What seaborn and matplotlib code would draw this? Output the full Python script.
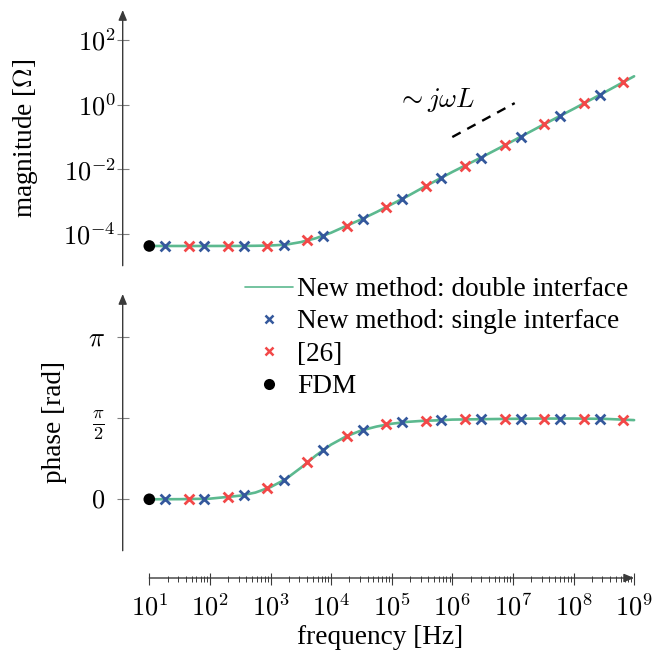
import numpy as np
import pandas as pd
import matplotlib
matplotlib.use("Agg")
import matplotlib.pyplot as plt
import seaborn as sns
from matplotlib.lines import Line2D
from matplotlib.ticker import FixedLocator, NullLocator

# ---------------------------------------------------------------- data
# frequencies are given as log10(f / Hz), magnitudes as log10(|Z| / Ohm)
line_log_f = [1.0, 1.5, 2.0, 2.5, 2.75, 3.0, 3.25, 3.5, 3.75, 4.0, 4.25, 4.5,
              4.75, 5.0, 5.25, 5.5, 5.75, 6.0, 6.5, 7.0, 7.5, 8.0, 8.5, 9.0]
line_mag_dec = [-4.37, -4.37, -4.37, -4.368, -4.364, -4.355, -4.33, -4.25,
                -4.13, -3.96, -3.75, -3.545, -3.32, -3.08, -2.84, -2.58,
                -2.33, -2.08, -1.61, -1.12, -0.62, -0.13, 0.37, 0.88]
line_phase = [0.0, 0.002, 0.012, 0.07, 0.13, 0.235, 0.39, 0.61, 0.85, 1.06,
              1.22, 1.335, 1.41, 1.465, 1.50, 1.52, 1.53, 1.545, 1.553, 1.56,
              1.565, 1.565, 1.56, 1.535]

single_log_f = [1.26, 1.91, 2.56, 3.22, 3.87, 4.52, 5.17, 5.82, 6.47, 7.13,
                7.78, 8.43]
single_mag_dec = [-4.37, -4.37, -4.37, -4.34, -4.07, -3.53, -2.92, -2.26,
                  -1.64, -0.99, -0.35, 0.31]
single_phase = [0.0, 0.015, 0.08, 0.37, 0.96, 1.34, 1.49, 1.53, 1.55, 1.56,
                1.565, 1.56]

ref_log_f = [1.65, 2.30, 2.95, 3.61, 4.26, 4.91, 5.56, 6.21, 6.87, 7.52,
             8.17, 8.82]
ref_mag_dec = [-4.37, -4.37, -4.36, -4.19, -3.74, -3.16, -2.52, -1.90,
               -1.25, -0.60, 0.05, 0.69]
ref_phase = [0.008, 0.04, 0.21, 0.72, 1.23, 1.45, 1.525, 1.55, 1.56, 1.565,
             1.56, 1.54]

fdm_log_f = [1.0]
fdm_mag_dec = [-4.37]
fdm_phase = [0.0]

# inductive slope guide (~ j omega L)
guide_log_f = [6.0, 7.03]
guide_mag_dec = [-1.0, 0.05]

legend_labels = ["New method: double interface",
                 "New method: single interface", "[26]", "FDM"]
mag_tick_exp = [-4, -2, 0, 2]
phase_ticks = [0.0, np.pi / 2, np.pi]
phase_tick_labels = [r"$0$", r"$\frac{\pi}{2}$", r"$\pi$"]
freq_tick_exp = [1, 2, 3, 4, 5, 6, 7, 8, 9]

# ---------------------------------------------------------------- style
sns.set_theme(style="white")
plt.rcParams["font.family"] = ["Liberation Serif", "DejaVu Serif"]
plt.rcParams["mathtext.fontset"] = "cm"
plt.rcParams["text.color"] = "black"
plt.rcParams["axes.labelcolor"] = "black"
plt.rcParams["xtick.labelcolor"] = "black"
plt.rcParams["ytick.labelcolor"] = "black"
FS = 19.6
FS_TICK = 19

GREEN = "#5cb98f"
BLUE = "#34589c"
RED = "#f24848"
AXC = "#3a3a3a"
TICKC = "#808080"

W, H = 662, 656
fig = plt.figure(figsize=(W / 100, H / 100), dpi=100)


def rect(x0, y_top, x1, y_bot):
    return [x0 / W, (H - y_bot) / H, (x1 - x0) / W, (y_bot - y_top) / H]


X_LEFT, X_RIGHT = 122.7, 637.0
PX_DEC = 60.6
X_DEC0 = 1 - (149.3 - X_LEFT) / PX_DEC
X_DEC1 = 1 + (X_RIGHT - 149.3) / PX_DEC

ax_mag = fig.add_axes(rect(X_LEFT, 10, X_RIGHT, 265.7))
ax_ph = fig.add_axes(rect(X_LEFT, 294, X_RIGHT, 550.7))
ax_f = fig.add_axes(rect(X_LEFT, 577.5, X_RIGHT, 578.5))

line_df = pd.DataFrame({"f": np.power(10.0, line_log_f),
                        "mag": np.power(10.0, line_mag_dec),
                        "phase": line_phase})
single_df = pd.DataFrame({"f": np.power(10.0, single_log_f),
                          "mag": np.power(10.0, single_mag_dec),
                          "phase": single_phase})
ref_df = pd.DataFrame({"f": np.power(10.0, ref_log_f),
                       "mag": np.power(10.0, ref_mag_dec),
                       "phase": ref_phase})
fdm_df = pd.DataFrame({"f": np.power(10.0, fdm_log_f),
                       "mag": np.power(10.0, fdm_mag_dec),
                       "phase": fdm_phase})

ARROW = "-|>,head_length=0.6,head_width=0.25"

for ax, col in ((ax_mag, "mag"), (ax_ph, "phase")):
    sns.lineplot(data=line_df, x="f", y=col, ax=ax, color=GREEN, lw=1.9,
                 estimator=None, sort=False, legend=False, zorder=2)
    sns.scatterplot(data=single_df, x="f", y=col, ax=ax, marker="x",
                    color=BLUE, s=50, linewidth=2.0, legend=False, zorder=3)
    sns.scatterplot(data=ref_df, x="f", y=col, ax=ax, marker="x",
                    color=RED, s=50, linewidth=2.0, legend=False, zorder=3)
    sns.scatterplot(data=fdm_df, x="f", y=col, ax=ax, marker="o",
                    color="black", s=70, edgecolor="none", legend=False,
                    zorder=4)
    ax.set_xscale("log")
    ax.set_xlim(10 ** X_DEC0, 10 ** X_DEC1)
    ax.tick_params(axis="x", bottom=False, labelbottom=False)
    ax.set_xlabel("")
    for s in ax.spines.values():
        s.set_visible(False)
    ax.annotate("", xy=(0, 1), xytext=(0, 0), xycoords="axes fraction",
                arrowprops=dict(arrowstyle=ARROW, color=AXC, lw=1.0,
                                shrinkA=0, shrinkB=0, mutation_scale=10))
    ax.tick_params(axis="y", direction="inout", length=8, width=0.8,
                   color=TICKC, labelcolor="black", labelsize=FS_TICK,
                   left=True)
    ax.yaxis.set_minor_locator(NullLocator())

# magnitude panel
ax_mag.set_yscale("log")
ax_mag.set_ylim(10 ** -4.98, 10 ** 2.93)
ax_mag.yaxis.set_major_locator(FixedLocator([10.0 ** e for e in mag_tick_exp]))
ax_mag.yaxis.set_minor_locator(NullLocator())
ax_mag.set_yticklabels([rf"$10^{{{e}}}$" for e in mag_tick_exp])
ax_mag.tick_params(axis="y", pad=1)
ax_mag.set_ylabel(r"magnitude [$\Omega$]", fontsize=FS, color="black")
ax_mag.yaxis.set_label_coords((40 - X_LEFT) / (X_RIGHT - X_LEFT), 0.5)

ax_mag.plot(np.power(10.0, guide_log_f), np.power(10.0, guide_mag_dec),
            color="black", lw=1.7, dashes=(4, 3.2))
ax_mag.text(10 ** 5.73, 10 ** 0.14, r"$\sim j\omega L$", fontsize=FS,
            ha="center", va="center", color="black")

# phase panel
ax_ph.set_ylim(-0.997, 3.98)
ax_ph.set_yticks(phase_ticks)
ax_ph.set_yticklabels(phase_tick_labels)
ax_ph.tick_params(axis="y", pad=9)
ax_ph.set_ylabel("phase [rad]", fontsize=FS, color="black")
ax_ph.yaxis.set_label_coords((67 - X_LEFT) / (X_RIGHT - X_LEFT), 0.5)

# frequency axis
ax_f.set_xscale("log")
ax_f.set_xlim(10 ** X_DEC0, 10 ** X_DEC1)
ax_f.set_yticks([])
for s in ax_f.spines.values():
    s.set_visible(False)
ax_f.patch.set_alpha(0)
ax_f.annotate("", xy=(10.0 ** freq_tick_exp[-1], 0.5),
              xytext=(10.0 ** freq_tick_exp[0], 0.5),
              xycoords=("data", "axes fraction"),
              arrowprops=dict(arrowstyle=ARROW, color=AXC, lw=1.0,
                              shrinkA=0, shrinkB=0, mutation_scale=10))
ax_f.xaxis.set_major_locator(FixedLocator([10.0 ** e for e in freq_tick_exp]))
minor = [m * 10.0 ** e for e in freq_tick_exp[:-1] for m in range(2, 10)]
ax_f.xaxis.set_minor_locator(FixedLocator(minor))
ax_f.set_xticklabels([rf"$10^{{{e}}}$" for e in freq_tick_exp])
ax_f.tick_params(axis="x", which="major", direction="inout", length=8,
                 width=0.8, color=AXC, labelcolor="black",
                 labelsize=FS_TICK, pad=7, bottom=True)
ax_f.tick_params(axis="x", which="minor", direction="inout", length=4.5,
                 width=0.7, color=AXC, bottom=True)
ax_f.set_xlabel("frequency [Hz]", fontsize=FS, labelpad=3, color="black")

# legend
handles = [
    Line2D([], [], color=GREEN, lw=1.2),
    Line2D([], [], ls="", marker="x", color=BLUE, markersize=6, mew=1.8),
    Line2D([], [], ls="", marker="x", color=RED, markersize=6, mew=1.8),
    Line2D([], [], ls="", marker="o", color="black", markersize=8, mec="none"),
]
leg = fig.legend(handles, legend_labels, loc="upper left",
                 bbox_to_anchor=(245 / W, (H - 277) / H), frameon=False,
                 fontsize=FS, handlelength=1.75, handletextpad=0.15,
                 borderpad=0, borderaxespad=0, labelspacing=0.27)
for t in leg.get_texts():
    t.set_color("black")

fig.savefig("out.png", dpi=100)
